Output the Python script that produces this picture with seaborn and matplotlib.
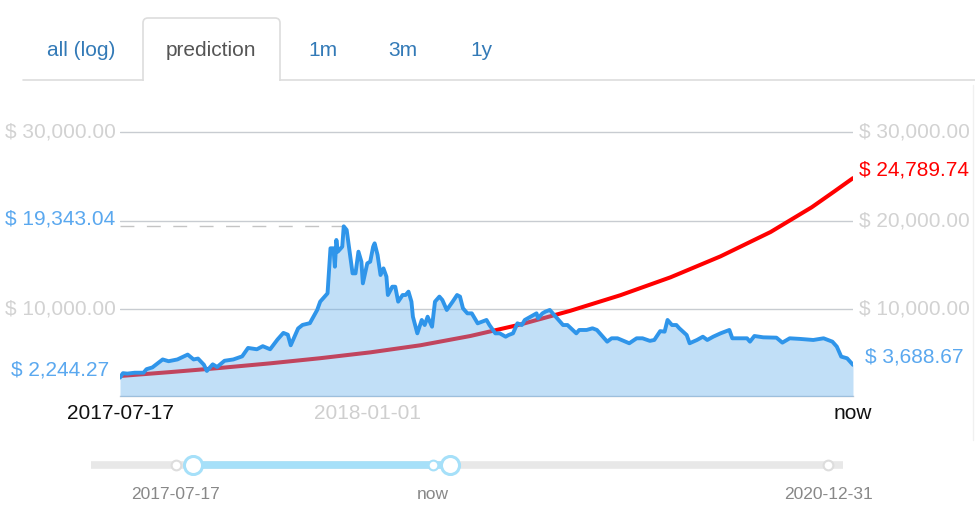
import matplotlib
matplotlib.use("Agg")
import matplotlib.pyplot as plt
import matplotlib.transforms as mtransforms
from matplotlib.patches import FancyBboxPatch, Rectangle
import numpy as np
import pandas as pd
import seaborn as sns

# dates shown on the chart
start_date = "2017-07-17"
now_date = "2018-11-27"
end_date = "2020-12-31"
mid_tick_date = "2018-01-01"

# price history (days counted from start_date)
price_days = [0, 2, 5, 10, 16, 18, 22, 29, 33, 39, 46, 50, 53, 57, 59, 63, 66, 71, 77, 83,
              87, 93, 97, 102, 107, 111, 114, 116, 121, 124, 129, 134, 136, 139, 141, 143, 145,
              146, 147, 148, 151, 152, 154, 158, 160, 162, 164, 165, 168, 170, 172, 173, 175,
              177, 179, 181, 182, 185, 187, 189, 192, 194, 196, 198, 199, 202, 205, 207, 209,
              212, 214, 217, 219, 222, 226, 229, 231, 233, 236, 239, 243, 246, 249, 251, 255,
              258, 262, 264, 267, 270, 273, 275, 279, 283, 284, 287, 289, 292, 294, 298, 301,
              304, 310, 312, 317, 321, 324, 331, 334, 338, 346, 351, 355, 360, 363, 367, 370,
              372, 375, 378, 380, 385, 387, 392, 396, 399, 403, 408, 411, 414, 416, 421, 426,
              428, 431, 437, 446, 450, 455, 462, 471, 478, 484, 487, 490, 494, 497, 498]
price_usd = [2244.27, 2750, 2700, 2800, 2800, 3200, 3400, 4300, 4100, 4300, 4850, 4300, 4400,
             3700, 3000, 3750, 3450, 4150, 4300, 4650, 5600, 5450, 5800, 5450, 6550, 7300, 7100,
             5900, 7800, 8200, 8400, 9900, 10830, 11400, 11770, 16860, 16860, 14780, 17800,
             16480, 17040, 19343.04, 18930, 14030, 14030, 16480, 15350, 12900, 15160, 15350,
             17040, 17420, 16100, 13840, 14590, 13660, 11580, 12520, 12520, 10830, 11580, 11580,
             11960, 10830, 9130, 7250, 8760, 8190, 9130, 8000, 10830, 11400, 11020, 9890, 10830,
             11580, 11400, 10080, 9510, 9510, 8380, 8570, 8760, 8190, 7250, 7250, 6870, 7060,
             7250, 8380, 8190, 8760, 9130, 9510, 8950, 9510, 9700, 9890, 9510, 8760, 8190, 8190,
             7250, 7630, 7630, 7820, 7630, 6310, 6690, 6690, 6130, 6690, 6690, 6400, 6500, 7500,
             7440, 8760, 8190, 8190, 7820, 7060, 6130, 6500, 6870, 6500, 6870, 7250, 7440, 7630,
             6690, 6690, 6690, 6310, 6950, 6800, 6760, 6200, 6690, 6620, 6500, 6690, 6310, 5750,
             4620, 4430, 3870, 3688.67]

# prediction curve
pred_days = [0, 34, 68, 102, 136, 170, 204, 238, 272, 306, 340, 374, 408, 442, 470, 485, 498]
pred_usd = [2430, 2870, 3340, 3860, 4440, 5100, 5900, 6950, 8250, 9800, 11560, 13580, 15950,
            18700, 21500, 23250, 24789.74]

grid_values = [10000, 20000, 30000]
grid_labels = ["$ 10,000.00", "$ 20,000.00", "$ 30,000.00"]
tab_names = ["all (log)", "prediction", "1m", "3m", "1y"]

W, H = 975, 520
FONT = ["Liberation Sans", "DejaVu Sans"]
BLUE = "#2f95ea"
BLUE_TXT = "#5aa8ef"
GREY_TXT = "#d2d2d2"
AXIS_C = "#c3cad2"

sns.set_theme(style="white")
plt.rcParams["font.family"] = FONT


def box(l, t, r, b):
    return [l / W, 1 - b / H, (r - l) / W, (b - t) / H]


t0 = pd.Timestamp(start_date)
t_now = pd.Timestamp(now_date)
t_end = pd.Timestamp(end_date)

hist = pd.DataFrame({"date": t0 + pd.to_timedelta(price_days, unit="D"), "price": price_usd})
pred = pd.DataFrame({"date": t0 + pd.to_timedelta(pred_days, unit="D"), "price": pred_usd})

fig = plt.figure(figsize=(W / 100, H / 100), dpi=100)

# ---- main chart
ax = fig.add_axes(box(120, 114.3, 853, 396))
sns.lineplot(data=pred, x="date", y="price", ax=ax, color="#ff0000", lw=2.9,
             estimator=None, sort=False, zorder=2)
ax.fill_between(hist["date"], hist["price"], 0, color="#66afed", alpha=0.4, lw=0, zorder=3)
sns.lineplot(data=hist, x="date", y="price", ax=ax, color=BLUE, lw=2.8,
             estimator=None, sort=False, zorder=4)
for ln in ax.lines:
    ln.set_solid_joinstyle("round")

peak_i = hist["price"].idxmax()
peak_date, peak_val = hist.loc[peak_i, "date"], hist.loc[peak_i, "price"]
ax.hlines(peak_val, t0, peak_date, colors="#c4c4c4", lw=1, linestyles=(0, (10, 9)), zorder=1)

ax.set_xlim(t0, t_now)
ax.set_ylim(170, 32000)
ax.set_xlabel("")
ax.set_ylabel("")
ax.set_yticks(grid_values)
ax.yaxis.grid(True, color="#c8ccd1", lw=1)
ax.xaxis.grid(False)
ax.tick_params(axis="y", length=0, labelleft=False)
ax.set_xticks([t0, pd.Timestamp(mid_tick_date), t_now])
ax.set_xticklabels([start_date, mid_tick_date, "now"])
ax.tick_params(axis="x", direction="in", length=11, width=1, color=AXIS_C, pad=6, labelsize=15)
for lab, c in zip(ax.get_xticklabels(), ["#111111", "#cfcfcf", "#111111"]):
    lab.set_color(c)
for s in ["left", "right", "top"]:
    ax.spines[s].set_visible(False)
ax.spines["bottom"].set_color(AXIS_C)
ax.spines["bottom"].set_linewidth(1)

# axis value labels on both sides
bt = mtransforms.blended_transform_factory(ax.transAxes, ax.transData)
left_x, right_x = (60 - 120) / 733, (914 - 120) / 733
for v, lab in zip(grid_values, grid_labels):
    if v != 20000:
        ax.text(left_x, v, lab, transform=bt, ha="center", va="center", fontsize=15, color=GREY_TXT)
    ax.text(right_x, v, lab, transform=bt, ha="center", va="center", fontsize=15, color=GREY_TXT)


def mark(x, v, color):
    ax.annotate(f"$ {v:,.2f}", xy=(x, v), xycoords=bt, xytext=(0, 5.5), textcoords="offset points",
                ha="center", va="center", fontsize=15, color=color, annotation_clip=False)


mark(left_x, peak_val, BLUE_TXT)
mark(left_x, price_usd[0], BLUE_TXT)
mark(right_x, price_usd[-1], BLUE_TXT)
mark(right_x, pred_usd[-1], "#ff0000")

# ---- tabs (page chrome, pixel coordinates)
ov = fig.add_axes([0, 0, 1, 1])
ov.set_xlim(0, W)
ov.set_ylim(H, 0)
ov.axis("off")
ov.patch.set_alpha(0)
ov.plot([23, 143], [80, 80], color="#dddddd", lw=1.2)
ov.plot([280, 975], [80, 80], color="#dddddd", lw=1.2)
ov.add_patch(FancyBboxPatch((143, 18), 137, 70, boxstyle="round,pad=0,rounding_size=5",
                            fc="white", ec="#dddddd", lw=1.2))
ov.add_patch(Rectangle((141, 81), 141, 12, fc="white", ec="none"))
ov.plot([973, 973], [85, 440], color="#f0f0f0", lw=1)
for name, cx in zip(tab_names, [81, 211, 323, 403, 481]):
    ov.text(cx, 50, name, ha="center", va="center", fontsize=15,
            color="#555555" if name == "prediction" else "#337ab7")

# ---- range slider
px_per_day = 652 / (t_end - t0).days
sl = fig.add_axes(box(91, 455, 843, 475))
sl.set_xlim(t0 - pd.Timedelta(days=85 / px_per_day), t_end + pd.Timedelta(days=15 / px_per_day))
sl.set_ylim(-1, 1)
sl.axis("off")
sl.patch.set_alpha(0)
sl.plot(sl.get_xlim(), [0, 0], color="#e8e8e8", lw=5.5, solid_capstyle="round", zorder=1)
shift = mtransforms.offset_copy(sl.transData, fig=fig, x=17, y=0, units="dots")
sl.plot([t0, t_now], [0, 0], color="#a6e0f9", lw=5.5, transform=shift, zorder=2)
sl.plot([t0, t_end], [0, 0], "o", ms=7, mfc="white", mec="#dddddd", mew=1.5, zorder=3)
sl.plot([t_now], [0], "o", ms=7, mfc="white", mec="#a6e0f9", mew=1.5, zorder=3)
sl.plot([t0, t_now], [0, 0], "o", ms=13, mfc="white", mec="#a6e0f9", mew=2.2,
        transform=shift, zorder=4)
for d, lab in [(t0, start_date), (t_now, "now"), (t_end, end_date)]:
    sl.annotate(lab, xy=(d, 0), xytext=(0, -21), textcoords="offset points", ha="center",
                va="center", fontsize=12.5, color="#888888")

fig.savefig("out.png", dpi=100)
